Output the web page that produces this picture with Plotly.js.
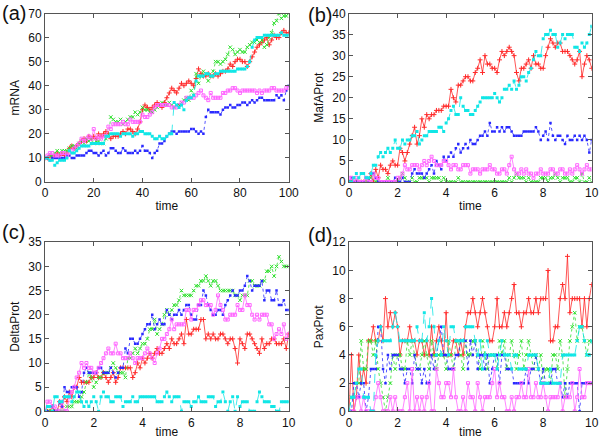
<!DOCTYPE html>
<html><head><meta charset="utf-8">
<script src="https://cdn.plot.ly/plotly-3.0.1.min.js"></script>
<style>body{margin:0;padding:0;background:#fff}#chart{width:600px;height:439px}</style>
</head><body><div id="chart"></div>
<script>
// time grids
var tA = [0,1,2,3,4,5,6,7,8,9,10,11,12,13,14,15,16,17,18,19,20,21,22,23,24,25,26,27,28,29,30,31,32,33,34,35,36,37,38,39,40,41,42,43,44,45,46,47,48,49,50,51,52,53,54,55,56,57,58,59,60,61,62,63,64,65,66,67,68,69,70,71,72,73,74,75,76,77,78,79,80,81,82,83,84,85,86,87,88,89,90,91,92,93,94,95,96,97,98,99,100];
var tB = [0,0.1,0.2,0.3,0.4,0.5,0.6,0.7,0.8,0.9,1,1.1,1.2,1.3,1.4,1.5,1.6,1.7,1.8,1.9,2,2.1,2.2,2.3,2.4,2.5,2.6,2.7,2.8,2.9,3,3.1,3.2,3.3,3.4,3.5,3.6,3.7,3.8,3.9,4,4.1,4.2,4.3,4.4,4.5,4.6,4.7,4.8,4.9,5,5.1,5.2,5.3,5.4,5.5,5.6,5.7,5.8,5.9,6,6.1,6.2,6.3,6.4,6.5,6.6,6.7,6.8,6.9,7,7.1,7.2,7.3,7.4,7.5,7.6,7.7,7.8,7.9,8,8.1,8.2,8.3,8.4,8.5,8.6,8.7,8.8,8.9,9,9.1,9.2,9.3,9.4,9.5,9.6,9.7,9.8,9.9,10];

// (a) mRNA
var mrnaRed = [10,10,11,10,11,12,11,12,11,12, 14,15,14,15,16,17,18,17,19,18, 19,18,20,19,20,21,20,18,19,19, 19,20,21,20,22,22,21,20,22,25, 30,32,31,30,31,32,33,32,31,33, 35,37,39,38,37,39,41,40,41,42, 41,40,43,47,45,44,44,45,44,44, 45,44,45,46,46,47,49,48,50,51, 51,50,50,48,50,52,54,56,57,58, 59,60,57,59,61,60,60,62,63,62,62];
var mrnaGreen = [10,10,11,11,12,13,12,13,13,13, 14,15,15,14,16,17,16,18,17,18, 16,17,17,16,16,18,19,27,26,25, 25,26,24,25,26,27,27,29,28,29, 31,30,30,29,29,30,31,32,33,32, 32,33,32,31,32,32,33,34,35,34, 38,36,45,41,44,46,45,42,44,46, 50,50,49,50,51,53,56,55,53,54, 55,54,54,56,57,58,58,59,58,59, 56,57,60,62,66,67,70,68,69,69,70];
var mrnaBlue = [10,10,9,10,10,10,10,10,10,11, 11,10,10,11,11,11,11,12,13,13, 12,12,11,12,13,11,12,14,14,13, 12,12,14,13,12,12,12,13,12,13, 15,13,13,12,10,12,13,16,16,17, 19,20,21,21,20,21,21,21,21,21, 22,22,21,20,21,20,27,30,29,29, 29,29,28,30,31,31,32,31,31,32, 32,33,33,32,33,34,33,34,35,35, 34,34,34,34,34,36,35,36,34,38,40];
var mrnaMagenta = [10,11,12,12,11,11,11,12,12,11, 12,13,14,15,16,18,17,18,19,18, 22,18,19,18,19,19,23,22,24,24, 24,24,25,24,24,26,25,25,25,25, 28,27,27,28,29,31,32,32,32,32, 32,32,31,31,31,32,33,33,35,35, 35,35,36,37,38,36,35,34,37,35, 35,35,35,37,37,38,38,39,39,38, 37,38,38,38,38,38,38,37,38,37, 38,38,38,39,39,38,38,38,38,39,39];
var mrnaCyan = [10,10,9,9,7,8,9,9,9,10, 13,12,12,13,14,15,15,15,15,16, 16,16,16,16,16,19,19,20,20,20, 20,19,20,20,20,20,19,20,20,21, 21,20,20,20,19,18,18,19,18,18, 19,20,20,33,32,31,32,30,34,35, 35,36,42,44,44,44,45,45,44,44, 45,45,46,46,46,46,46,46,46,47, 47,47,47,48,50,56,59,60,60,60, 61,61,61,61,61,61,61,62,61,61,61];

// (b) MafAProt
var mafRed = [0,0,0,0,0,0,0,0,0,2, 0,3,1,4,3,3,2,4,5,4, 4,8,7,5,7,9,11,13,9,11, 15,13,16,15,16,16,17,17,17,18, 18,18,22,20,19,23,23,24,25,25, 24,24,26,27,29,26,30,28,28,27, 27,26,29,31,30,31,32,31,30,26, 24,27,27,28,29,27,30,28,28,27, 27,30,32,34,33,32,33,33,31,31, 31,30,29,28,29,31,25,28,30,29,27];
var mafGreen = [0,0,0,0,0,0,0,0,0,1, 2,0,0,0,0,0,1,0,0,0, 0,1,2,1,0,0,1,0,0,1, 1,1,1,0,1,1,1,1,0,1, 0,0,0,0,0,1,0,0,0,0, 0,0,0,0,0,0,0,0,0,0, 0,0,0,0,0,0,1,0,1,2, 1,1,1,0,1,0,0,0,0,1, 1,1,0,1,1,2,1,0,1,1, 1,0,0,1,1,0,2,0,0,1,0];
var mafBlue = [0,1,0,0,0,0,0,1,0,2, 2,1,0,0,0,0,0,0,0,1, 0,0,1,0,0,0,2,3,2,2, 2,1,2,3,4,2,5,4,3,6, 5,6,7,6,8,9,7,8,9,8, 10,9,9,10,11,11,12,11,14,12, 12,13,12,13,12,13,13,12,11,11, 11,11,12,12,12,12,12,13,12,10, 11,12,10,14,11,10,11,11,10,9, 11,10,10,11,10,11,10,11,10,7,10];
var mafMagenta = [1,1,0,1,0,0,0,1,0,0, 2,1,1,0,0,0,0,0,0,0, 1,1,2,4,3,3,4,4,4,3, 4,5,4,5,6,5,4,4,4,5, 5,4,3,4,4,3,3,4,4,4, 2,3,3,3,2,3,3,3,4,3, 3,2,2,3,3,2,4,6,3,2, 2,3,2,3,2,2,1,2,2,3, 2,2,2,3,3,2,2,3,3,2, 2,3,2,3,4,3,2,3,4,3,3];
var mafCyan = [0,0,1,2,1,2,2,1,1,2, 4,4,6,7,6,7,8,7,8,10, 8,8,10,9,10,10,11,11,12,9, 10,11,11,12,12,12,12,13,13,12, 14,15,17,18,16,16,20,18,17,17, 16,16,17,18,19,20,20,20,20,20, 21,20,19,20,22,22,23,22,24,22, 23,25,25,24,26,27,29,31,30,30, 34,35,35,36,35,35,32,33,35,34, 35,35,35,32,32,31,33,32,33,35,37];

// (c) DeltaProt
var deltaRed = [0,0,0,1,0,0,2,1,3,2, 4,3,5,5,7,6,6,6,6,7, 7,8,7,7,8,7,6,7,8,6, 7,9,9,9,9,9,7,8,10,9, 11,10,11,12,11,12,13,12,12,13, 14,13,15,14,14,15,16,14,19,16, 16,17,17,17,19,19,15,16,15,16, 15,15,16,16,15,14,15,15,13,10, 15,14,13,16,16,15,14,13,12,15, 13,14,14,15,15,14,14,14,15,13,16];
var deltaGreen = [0,0,0,0,0,0,0,0,0,1, 1,1,2,2,2,3,4,6,8,7, 5,6,7,7,8,8,8,9,10,9, 8,8,8,7,11,11,12,13,12,13, 14,14,15,17,17,19,16,17,18,20, 21,20,21,22,22,23,25,24,24,24, 24,25,26,26,27,27,28,27,26,27, 27,26,25,25,25,25,25,25,24,24, 23,24,24,24,27,27,26,26,26,27, 27,29,29,30,28,30,32,31,30,30,30];
var deltaBlue = [0,0,1,1,0,0,2,1,5,4, 4,5,5,5,3,4,8,9,8,8, 8,8,9,9,8,8,8,9,8,7, 8,9,9,13,12,15,15,14,14,15, 16,17,18,18,20,17,18,19,18,18, 21,20,19,20,20,21,20,21,22,22, 20,19,19,22,22,25,24,22,21,20, 20,21,21,20,22,23,24,25,24,24, 25,25,26,28,27,25,26,26,26,27, 23,25,25,23,23,25,22,22,23,21,21];
var deltaMagenta = [0,2,2,1,1,0,0,2,0,0, 3,4,5,7,8,10,9,10,9,9, 8,8,9,10,11,12,13,12,12,14, 12,12,11,11,11,12,11,10,11,11, 11,12,13,12,11,10,12,13,15,15, 16,17,19,17,18,18,18,18,21,21, 19,21,21,22,23,23,22,22,22,20, 21,24,22,21,19,19,20,20,20,22, 21,21,24,22,22,20,19,20,19,20, 20,20,18,18,15,16,17,16,18,15,16];
var deltaCyan = [0,1,1,0,3,3,2,2,3,3, 3,2,3,4,4,2,1,2,1,2, 3,2,0,3,4,3,3,2,2,3, 3,3,1,2,2,2,3,2,2,3, 3,3,3,3,3,3,2,2,2,3, 4,3,2,3,3,3,0,2,2,2, 1,2,2,3,2,2,2,3,3,3, 1,2,2,4,2,0,2,3,0,3, 1,2,2,2,0,0,0,2,4,3, 2,2,2,1,1,0,0,2,2,2,2];

// (d) PaxProt
var paxRed = [0,4,0,1,4,2,3,2,5,5, 6,5,5,6,5,8,6,7,6,7, 6,4,5,5,5,6,5,5,4,5, 5,4,5,4,6,4,5,6,5,4, 7,4,4,5,5,4,5,4,6,7, 7,8,7,6,7,8,7,6,5,5, 6,8,6,6,7,6,7,8,9,7, 7,6,7,7,8,7,7,8,7,8, 8,8,10,5,5,6,6,8,9,8, 11,7,8,8,8,8,6,8,6,8,9];
var paxGreen = [0,1,1,2,2,5,3,3,5,5, 4,5,3,2,1,0,1,2,4,3, 4,4,3,3,5,4,5,4,3,3, 4,5,4,3,5,4,3,4,4,4, 3,5,4,3,5,5,4,3,5,4, 4,5,5,4,3,5,4,3,4,4, 4,3,5,4,5,3,4,5,4,3, 4,5,3,4,5,4,3,4,3,4, 2,3,3,2,4,4,3,5,4,1, 3,5,6,7,5,6,6,5,4,5,5];
var paxBlue = [0,0,2,2,1,2,2,0,1,3, 3,3,6,6,3,2,4,3,4,4, 4,3,3,2,3,3,2,4,3,3, 2,3,2,2,4,3,4,5,6,4, 4,3,3,3,4,4,5,5,5,3, 5,4,5,3,4,4,3,4,2,3, 4,4,2,4,4,3,3,3,2,2, 2,2,2,3,2,3,3,4,3,2, 3,2,2,2,3,3,2,2,1,2, 1,2,2,2,2,0,2,2,2,2,2];
var paxMagenta = [0,0,0,1,1,0,1,0,0,0, 0,1,2,1,0,0,0,1,0,1, 0,0,0,1,2,0,3,0,1,0, 1,0,1,2,0,0,3,2,1,1, 2,2,1,3,1,0,0,1,0,2, 1,1,0,2,1,0,1,1,1,2, 3,1,2,1,1,0,0,1,0,1, 1,2,1,1,3,1,1,2,1,1, 2,1,0,1,1,1,1,2,0,1, 1,1,2,0,1,3,1,1,2,2,2];
var paxCyan = [0,1,1,2,3,3,1,1,1,0, 0,4,5,6,5,5,5,5,6,7, 6,5,5,5,5,5,5,5,6,5, 5,7,5,6,8,6,4,5,4,6, 5,4,6,6,5,5,5,5,6,6, 6,6,5,4,5,3,4,5,4,4, 4,3,4,5,4,4,4,3,4,4, 3,3,3,3,4,4,4,4,3,2, 2,2,2,3,2,2,2,2,4,4, 4,4,4,4,5,6,6,5,4,4,5];

var panelLetters = ['(a)','(b)','(c)','(d)'];
var yTitles = ['mRNA','MafAProt','DeltaProt','PaxProt'];
var xTitle = 'time';

var styles = [
  {color:'#ff2a2a', dash:'solid', symbol:'cross-thin-open', size:3.5, lw:1},
  {color:'#2ee02e', dash:'dot', symbol:'x-thin-open', size:3.5, lw:1},
  {color:'#2a2aff', dash:'dot', symbol:'square', size:2.5, lw:0},
  {color:'#ff66ff', dash:'solid', symbol:'square-open', size:3, lw:1},
  {color:'#11e6e6', dash:'dash', symbol:'square', size:3, lw:0}
];

var panels = [
  {t:tA, ys:[mrnaRed,mrnaGreen,mrnaBlue,mrnaMagenta,mrnaCyan], xa:'x', ya:'y'},
  {t:tB, ys:[mafRed,mafGreen,mafBlue,mafMagenta,mafCyan], xa:'x2', ya:'y2'},
  {t:tB, ys:[deltaRed,deltaGreen,deltaBlue,deltaMagenta,deltaCyan], xa:'x3', ya:'y3'},
  {t:tB, ys:[paxRed,paxGreen,paxBlue,paxMagenta,paxCyan], xa:'x4', ya:'y4'}
];

var data = [];
panels.forEach(function(p){
  p.ys.forEach(function(y, i){
    var s = styles[i];
    data.push({
      x:p.t, y:y, xaxis:p.xa, yaxis:p.ya, type:'scatter', mode:'lines+markers',
      line:{color:s.color, width:0.8, dash:s.dash},
      marker:{symbol:s.symbol, size:s.size, color:s.color, line:{color:s.color, width:s.lw}},
      showlegend:false, hoverinfo:'skip'
    });
  });
});

var font = {family:'Liberation Sans, Arial, sans-serif', size:12, color:'#111'};
function ax(domain, range, dtick, title, anchor, standoff){
  return {
    domain:domain, range:range, dtick:dtick, tick0:0, anchor:anchor,
    showline:true, mirror:'ticks', linecolor:'#555', linewidth:1,
    ticks:'inside', ticklen:4, tickcolor:'#555', tickwidth:1,
    showgrid:false, zeroline:false, tickfont:font,
    title:{text:title, font:font, standoff:standoff}, automargin:false, fixedrange:true
  };
}
var xdL = [0.075, 0.4812], xdR = [0.5818, 0.9862];
var ydT = [0.5854, 0.9692], ydB = [0.0631, 0.4481];

var layout = {
  width:600, height:439, margin:{l:0,r:0,t:0,b:0},
  paper_bgcolor:'#fff', plot_bgcolor:'#fff', font:font, showlegend:false,
  xaxis: ax(xdL,[0,100],20,xTitle,'y',2),
  yaxis: ax(ydT,[0,70],10,yTitles[0],'x',6),
  xaxis2: ax(xdR,[0,10],2,xTitle,'y2',2),
  yaxis2: ax(ydT,[0,40],5,yTitles[1],'x2',6),
  xaxis3: ax(xdL,[0,10],2,xTitle,'y3',2),
  yaxis3: ax(ydB,[0,35],5,yTitles[2],'x3',6),
  xaxis4: ax(xdR,[0,10],2,xTitle,'y4',2),
  yaxis4: ax(ydB,[0,12],2,yTitles[3],'x4',6),
  annotations: [
    {text:panelLetters[0], x:0/600, y:1-13/439},
    {text:panelLetters[1], x:306/600, y:1-15/439},
    {text:panelLetters[2], x:0/600, y:1-232/439},
    {text:panelLetters[3], x:306/600, y:1-235/439}
  ].map(function(a){
    return {text:a.text, x:a.x, y:a.y, xref:'paper', yref:'paper', xanchor:'left', yanchor:'middle',
      showarrow:false, font:{family:'Liberation Sans, Arial, sans-serif', size:20, color:'#111'}};
  })
};

Plotly.newPlot('chart', data, layout, {displayModeBar:false, staticPlot:true});
</script>
</body></html>
